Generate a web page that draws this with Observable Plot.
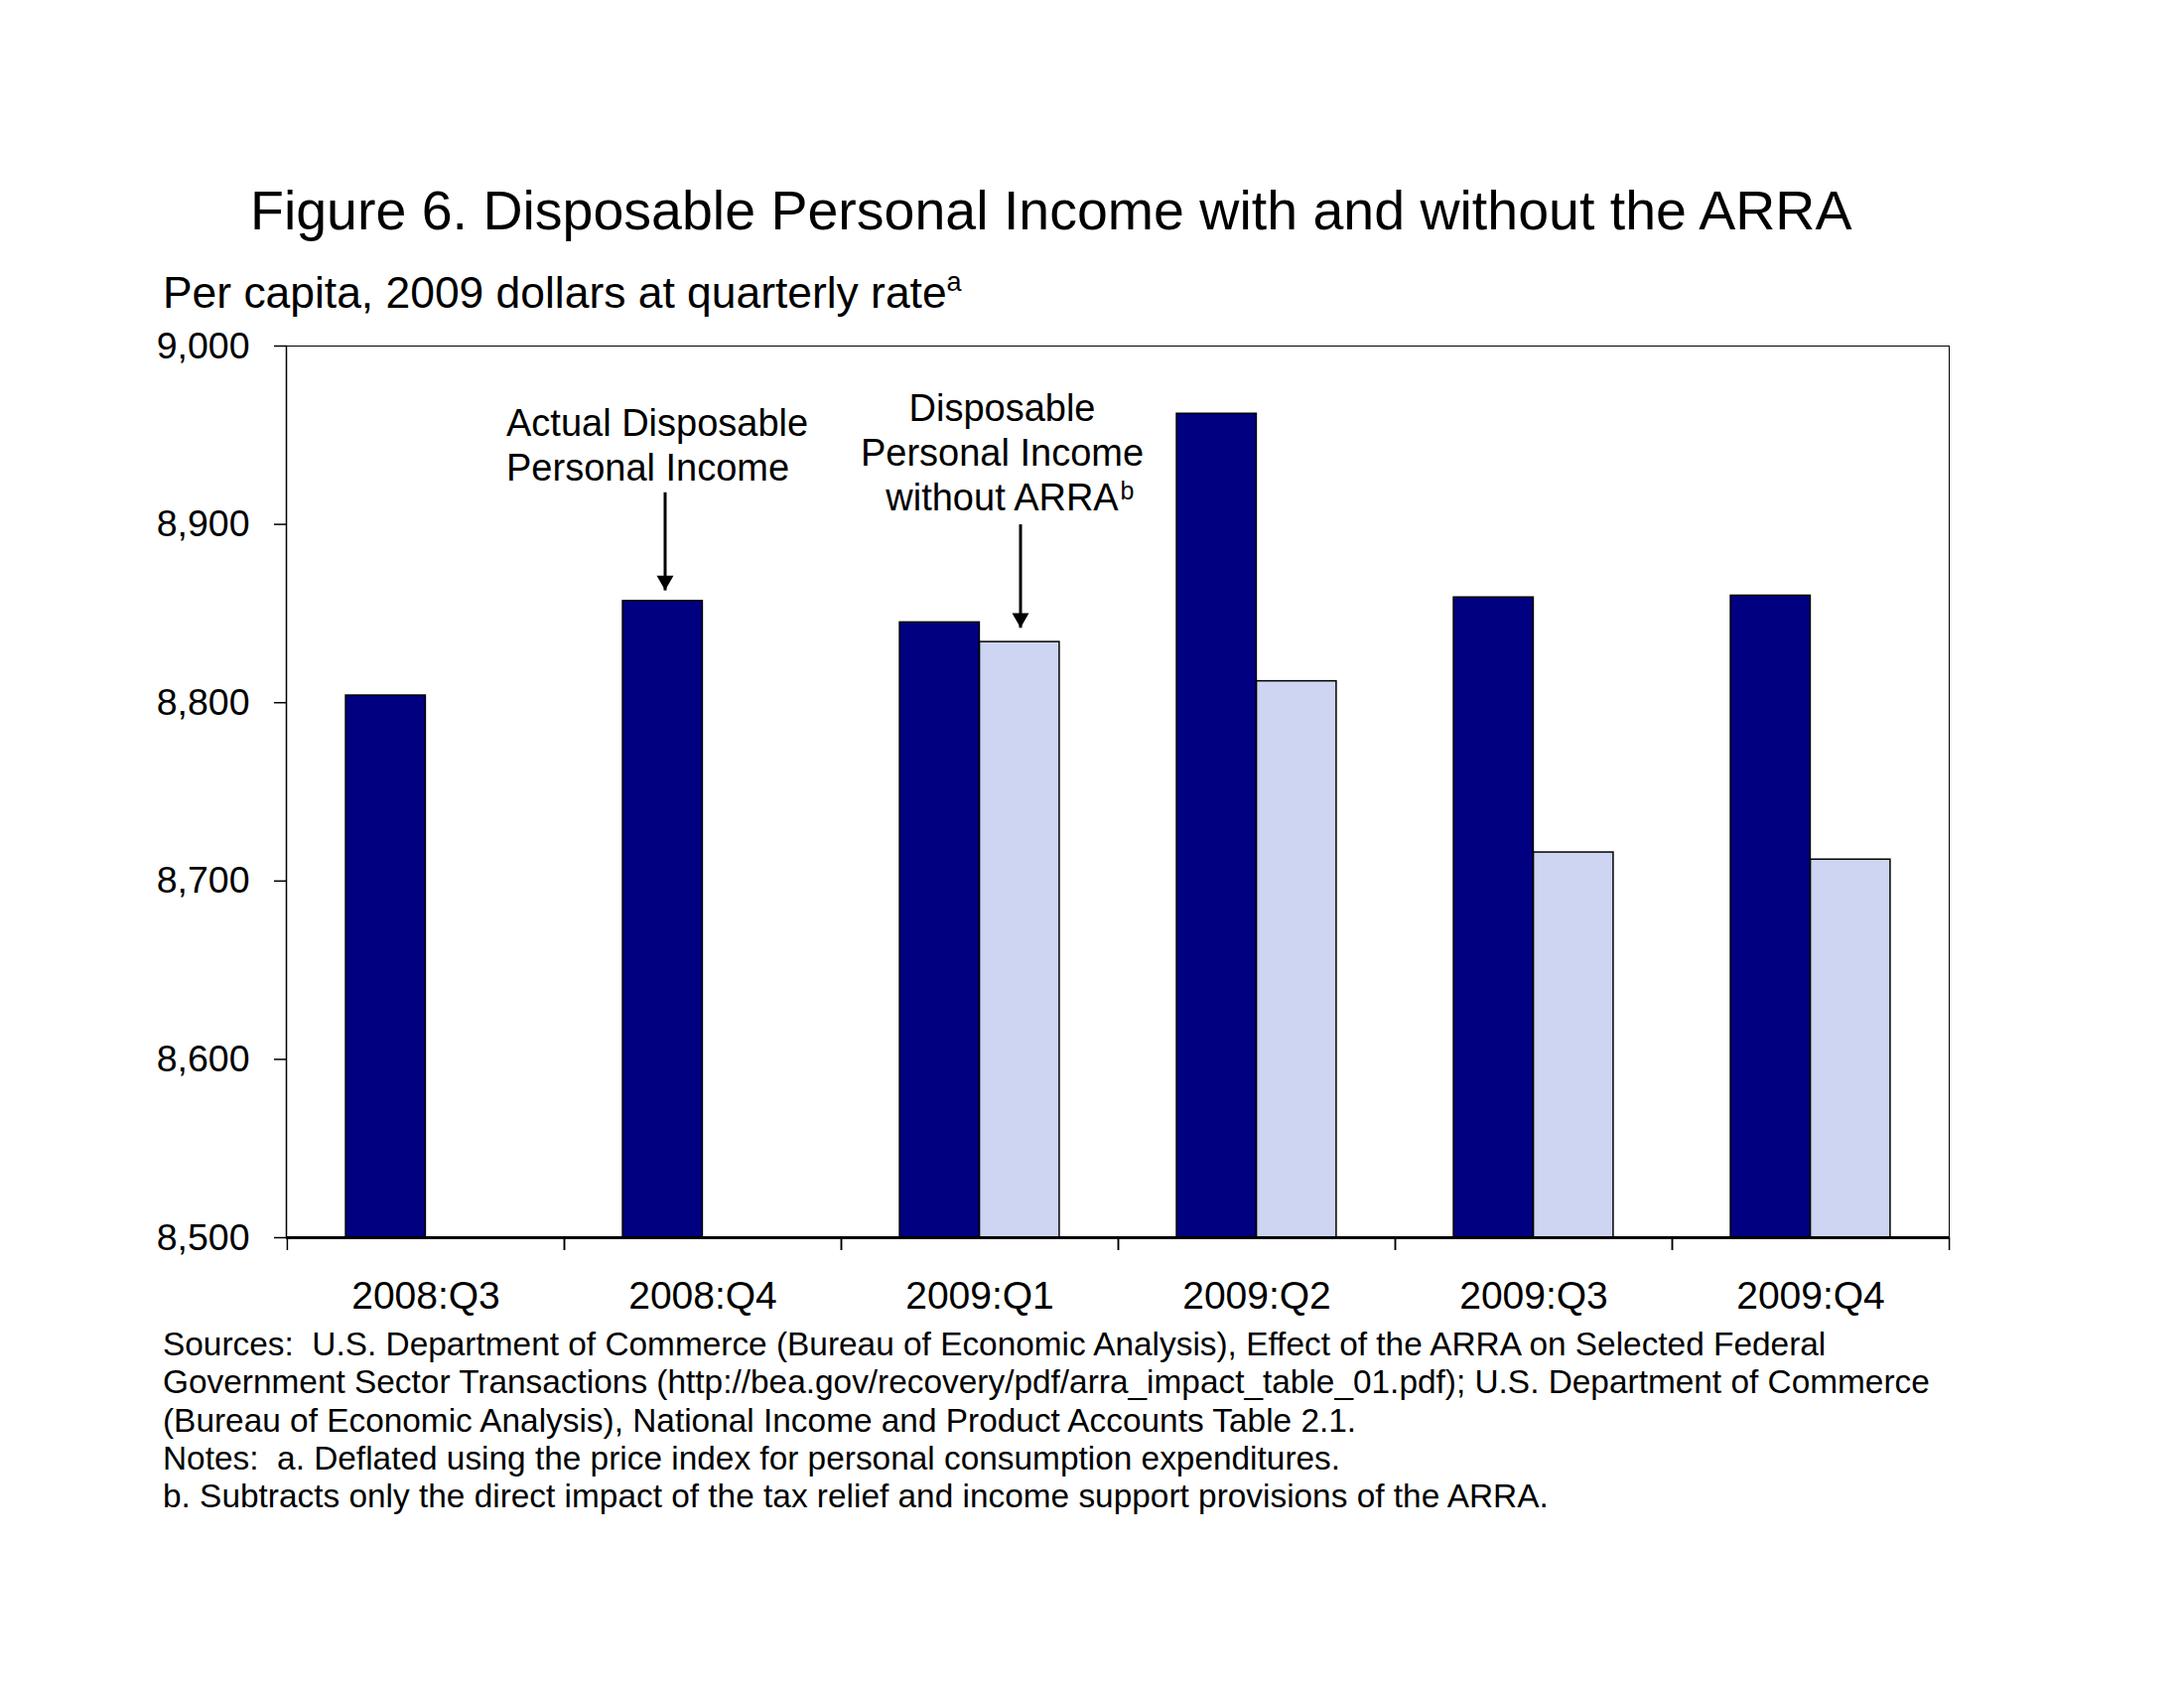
<!DOCTYPE html>
<html>
<head>
<meta charset="utf-8">
<script src="https://cdn.jsdelivr.net/npm/d3@7"></script>
<script src="https://cdn.jsdelivr.net/npm/@observablehq/plot@0.6"></script>
<style>
  html, body { margin: 0; padding: 0; background: #fff; }
  #page { position: relative; width: 2200px; height: 1700px; font-family: "Liberation Sans", Arial, sans-serif; color: #000; background: #fff; }
  #title { position: absolute; left: 252px; top: 182px; font-size: 55.5px; line-height: 60px; white-space: nowrap; }
  #subtitle { position: absolute; left: 164px; top: 270px; font-size: 44.4px; line-height: 50px; white-space: nowrap; }
  #subtitle sup { font-size: 27px; line-height: 0; vertical-align: 0; position: relative; top: -17px; }
  #chart { position: absolute; left: 0; top: 330px; }
  #caption { position: absolute; left: 164px; top: 1335px; font-size: 33.4px; line-height: 38.3px; white-space: pre; }
</style>
</head>
<body>
<div id="page">
  <div id="title"></div>
  <div id="subtitle"></div>
  <div id="chart"></div>
  <div id="caption"></div>
</div>
<script>
// ---- data ----
const quarters = ["2008:Q3", "2008:Q4", "2009:Q1", "2009:Q2", "2009:Q3", "2009:Q4"];
const actualDPI = [8804, 8857, 8845, 8962, 8859, 8860];
const withoutARRA = [null, null, 8834, 8812, 8716, 8712];
const yTicks = [8500, 8600, 8700, 8800, 8900, 9000];
const seriesNames = ["Actual Disposable Personal Income", "Disposable Personal Income without ARRA"];
const seriesColors = ["#000080", "#CDD5F2"];

const titleText = "Figure 6. Disposable Personal Income with and without the ARRA";
const subtitleText = "Per capita, 2009 dollars at quarterly rate";
const subtitleNote = "a";
const captionLines = [
  "Sources:  U.S. Department of Commerce (Bureau of Economic Analysis), Effect of the ARRA on Selected Federal",
  "Government Sector Transactions (http://bea.gov/recovery/pdf/arra_impact_table_01.pdf); U.S. Department of Commerce",
  "(Bureau of Economic Analysis), National Income and Product Accounts Table 2.1.",
  "Notes:  a. Deflated using the price index for personal consumption expenditures.",
  "b. Subtracts only the direct impact of the tax relief and income support provisions of the ARRA."
];

// annotations (anchored to a quarter and a value on the y scale)
const annotActual = [{quarter: "2008:Q4", text: "Actual Disposable\nPersonal Income", value: 8924.8}];
const annotWithout = [{quarter: "2009:Q1", text: "Disposable\nPersonal Income\nwithout ARRA", value: 8907.6}];
const annotWithoutNote = [{quarter: "2009:Q1", text: "b", value: 8907.6}];
const arrowActual = [{quarter: "2008:Q4", from: 8918, to: 8863}];
const arrowWithout = [{quarter: "2009:Q1", from: 8900, to: 8842}];

// ---- page text ----
document.getElementById("title").textContent = titleText;
const sub = document.getElementById("subtitle");
sub.textContent = subtitleText;
const sup = document.createElement("sup");
sup.textContent = subtitleNote;
sub.appendChild(sup);
document.getElementById("caption").textContent = captionLines.join("\n");

// ---- layout ----
const W = 2200, ML = 288, MR = 237, MT = 18, MB = 80;
const H = MT + 898 + MB;
const band = (W - ML - MR) / quarters.length;
const barW = 80.5;
const outer = band / 2 - barW;

const actualRows = quarters.map((q, i) => ({quarter: q, series: seriesNames[0], value: actualDPI[i]}));
const withoutRows = quarters.map((q, i) => ({quarter: q, series: seriesNames[1], value: withoutARRA[i]}))
  .filter(d => d.value != null);

const fontFamily = "'Liberation Sans', Arial, sans-serif";

const chart = Plot.plot({
  width: W,
  height: H,
  marginLeft: ML,
  marginRight: MR,
  marginTop: MT,
  marginBottom: MB,
  style: {fontFamily, fontSize: "37px", color: "#000", background: "#fff", overflow: "visible"},
  x: {domain: quarters, padding: 0, label: null},
  y: {domain: [yTicks[0], yTicks[yTicks.length - 1]], label: null},
  color: {domain: seriesNames, range: seriesColors},
  marks: [
    Plot.frame({stroke: "#000", strokeWidth: 1}),
    Plot.barY(actualRows, {x: "quarter", y1: yTicks[0], y2: "value", fill: "series", stroke: "#000", strokeWidth: 1.5, insetLeft: outer, insetRight: band / 2}),
    Plot.barY(withoutRows, {x: "quarter", y1: yTicks[0], y2: "value", fill: "series", stroke: "#000", strokeWidth: 1.5, insetLeft: band / 2, insetRight: outer}),
    Plot.ruleY([yTicks[0]], {stroke: "#000", strokeWidth: 3}),
    Plot.frame({anchor: "left", stroke: "#000", strokeWidth: 1.5}),
    Plot.axisY({ticks: yTicks, tickFormat: d3.format(","), tickSize: 12, tickPadding: 25, fontSize: 37.5, stroke: "#000", strokeWidth: 1.5, label: null}),
    Plot.axisX({tickSize: 0, tickPadding: 44, fontSize: 39, label: null}),
    Plot.axisX({tickFormat: () => "", tickSize: 13, dx: -band / 2, stroke: "#000", strokeWidth: 1.5, label: null}),
    Plot.axisX({tickFormat: () => "", tickSize: 13, dx: band / 2, stroke: "#000", strokeWidth: 1.5, label: null}),
    // annotations
    Plot.text(annotActual, {x: "quarter", y: "value", text: "text", textAnchor: "start", lineAnchor: "bottom", lineHeight: 1.184, fontSize: 38, dx: -198, fill: "#000"}),
    Plot.text(annotWithout, {x: "quarter", y: "value", text: "text", textAnchor: "middle", lineAnchor: "bottom", lineHeight: 1.184, fontSize: 38, dx: 22.5, fill: "#000"}),
    Plot.text(annotWithoutNote, {x: "quarter", y: "value", text: "text", textAnchor: "start", lineAnchor: "bottom", fontSize: 25, dx: 141.5, dy: -11, fill: "#000"}),
    Plot.link(arrowActual, {x1: "quarter", x2: "quarter", y1: "from", y2: "to", dx: -38, stroke: "#000", strokeWidth: 3}),
    Plot.dot(arrowActual, {x: "quarter", y: "to", symbol: "triangle", rotate: 180, r: 6.3, fill: "#000", stroke: "none", dx: -38, dy: -9.8}),
    Plot.link(arrowWithout, {x1: "quarter", x2: "quarter", y1: "from", y2: "to", dx: 41, stroke: "#000", strokeWidth: 3}),
    Plot.dot(arrowWithout, {x: "quarter", y: "to", symbol: "triangle", rotate: 180, r: 6.3, fill: "#000", stroke: "none", dx: 41, dy: -9.8})
  ]
});
document.getElementById("chart").appendChild(chart);
</script>
</body>
</html>
